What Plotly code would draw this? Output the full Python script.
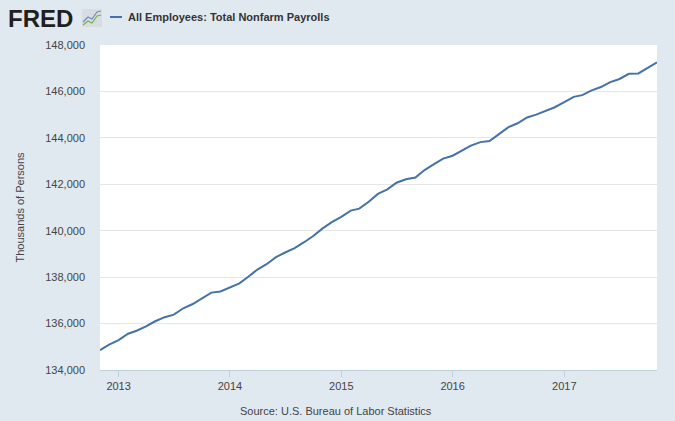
import plotly.graph_objects as go
import pandas as pd

dates = pd.date_range("2012-11-01", "2017-11-01", freq="MS").strftime("%Y-%m-%d").tolist()
payems = [
    134850, 135094, 135284, 135561, 135690, 135877, 136099, 136275, 136383, 136659,
    136842, 137067, 137333, 137383, 137570, 137730, 138008, 138329, 138556, 138860,
    139061, 139251, 139505, 139770, 140102, 140371, 140598, 140865, 140949, 141244,
    141586, 141784, 142068, 142217, 142293, 142614, 142866, 143105, 143231, 143449,
    143664, 143817, 143860, 144162, 144452, 144628, 144876, 145000, 145164, 145319,
    145535, 145767, 145840, 146044, 146189, 146399, 146537, 146758, 146776, 147020,
    147248,
]
series_name = "All Employees: Total Nonfarm Payrolls"
y_title = "Thousands of Persons"
source_text = "Source: U.S. Bureau of Labor Statistics"
year_ticks = ["2013-01-01", "2014-01-01", "2015-01-01", "2016-01-01", "2017-01-01"]
year_labels = ["2013", "2014", "2015", "2016", "2017"]

W, H = 675, 421
L, R, T, B = 100, 18, 45, 51
pw, ph = W - L - R, H - T - B

def px(x):
    return (x - L) / pw

def py(y):
    return (H - B - y) / ph

FONT = "Liberation Sans, Arial, sans-serif"
BLUE = "#4572a7"

fig = go.Figure()
fig.add_trace(go.Scatter(x=dates, y=payems, mode="lines", name=series_name,
                         line=dict(color=BLUE, width=2), showlegend=False,
                         hoverinfo="skip"))

shapes = []
# legend line sample
shapes.append(dict(type="line", xref="paper", yref="paper",
                   x0=px(110), x1=px(122), y0=py(17), y1=py(17),
                   line=dict(color=BLUE, width=2)))
# FRED icon box
shapes.append(dict(type="rect", xref="paper", yref="paper",
                   x0=px(82), x1=px(102), y0=py(27), y1=py(9),
                   fillcolor="#d8dde2", line=dict(width=0)))
shapes.append(dict(type="path", xref="paper", yref="paper",
                   path=f"M {px(83)} {py(22)} L {px(88)} {py(17)} L {px(92)} {py(19)} L {px(97)} {py(12)} L {px(101)} {py(11)}",
                   line=dict(color="#6b8fc0", width=1.2)))
shapes.append(dict(type="path", xref="paper", yref="paper",
                   path=f"M {px(83)} {py(25)} L {px(88)} {py(21)} L {px(92)} {py(23)} L {px(97)} {py(16)} L {px(101)} {py(15)}",
                   line=dict(color="#7ab04a", width=1.2)))

annotations = [
    dict(text="<b>FRED</b>", xref="paper", yref="paper", x=px(6), y=py(18),
         xanchor="left", yanchor="middle", showarrow=False,
         font=dict(family=FONT, size=24, color="#231f20")),
    dict(text="<b>" + series_name + "</b>", xref="paper", yref="paper", x=px(126), y=py(17),
         xanchor="left", yanchor="middle", showarrow=False,
         font=dict(family=FONT, size=11, color="#333333")),
    dict(text=source_text, xref="paper", yref="paper", x=px(336), y=py(411),
         xanchor="center", yanchor="middle", showarrow=False,
         font=dict(family=FONT, size=11, color="#444444")),
]

fig.update_layout(
    width=W, height=H,
    margin=dict(l=L, r=R, t=T, b=B, pad=0),
    paper_bgcolor="#e1e9f0", plot_bgcolor="#ffffff",
    font=dict(family=FONT, size=11, color="#444444"),
    shapes=shapes, annotations=annotations,
    xaxis=dict(type="date", range=["2012-11-01", "2017-11-01"],
               tickvals=year_ticks, ticktext=year_labels,
               showgrid=False, zeroline=False,
               showline=True, linecolor="#c0d0e0", linewidth=1,
               ticks="outside", ticklen=6, tickcolor="#c0d0e0",
               tickfont=dict(size=11, color="#444444")),
    yaxis=dict(range=[134000, 148000], dtick=2000, tickformat=",d",
               showgrid=True, gridcolor="#e6e6e6", gridwidth=1,
               zeroline=False, showline=False, ticks="",
               ticklabelstandoff=14,
               tickfont=dict(size=11, color="#444444"),
               title=dict(text=y_title, font=dict(size=11, color="#444444"), standoff=18)),
)

fig.write_html("out.html", config={"displayModeBar": False},
               post_script="document.body.style.margin='0';document.body.style.overflow='hidden';document.body.style.background='#e1e9f0';")
